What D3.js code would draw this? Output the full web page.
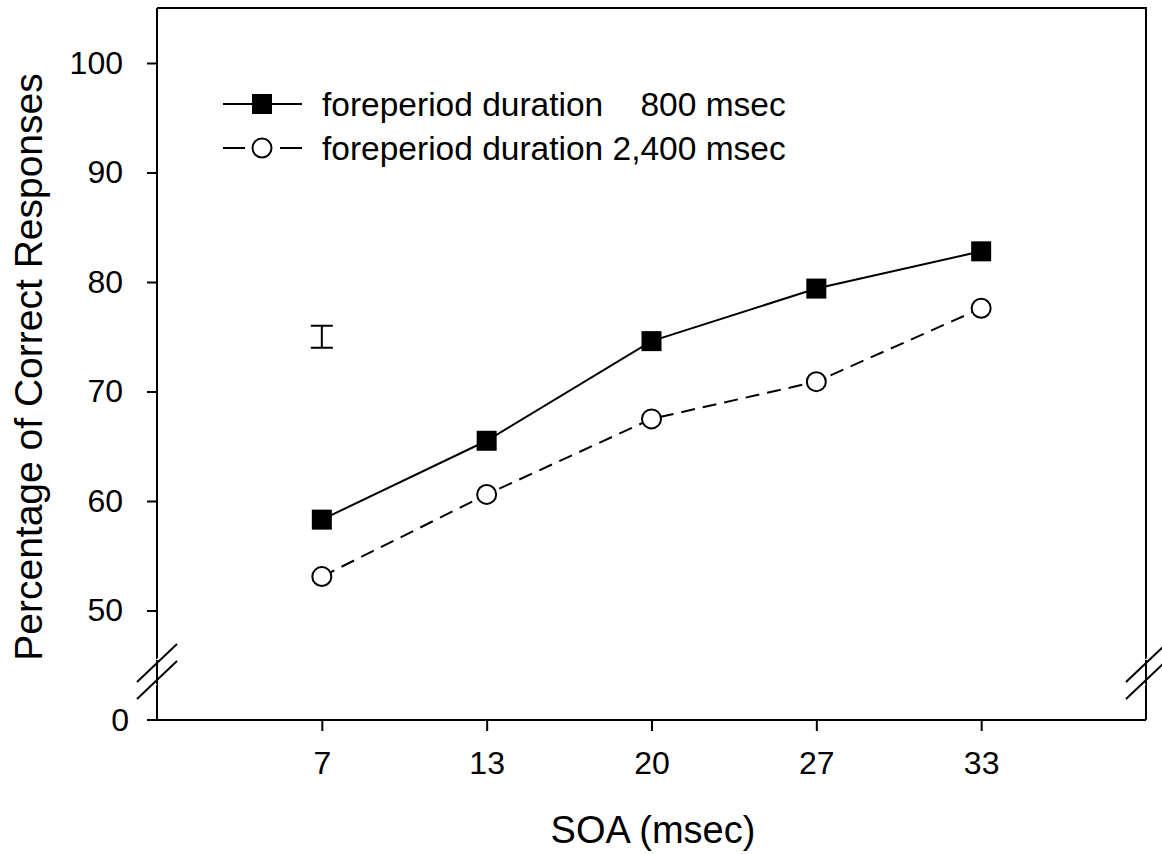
<!DOCTYPE html>
<html>
<head>
<meta charset="utf-8">
<script src="https://cdn.jsdelivr.net/npm/d3@7"></script>
<style>
  html, body { margin: 0; padding: 0; background: #fff; }
  svg { display: block; font-family: "Liberation Sans", Arial, sans-serif; }
</style>
</head>
<body>
<svg id="chart" width="1162" height="854"></svg>
<script>
// ---- data ----
const soaCategories = ["7", "13", "20", "27", "33"];
const fp800 = [58.3, 65.5, 74.6, 79.4, 82.8];
const fp2400 = [53.1, 60.6, 67.5, 70.9, 77.6];
const seriesNames = ["foreperiod duration    800 msec", "foreperiod duration 2,400 msec"];
const yTickValues = [40, 50, 60, 70, 80, 90, 100];
const yTickLabels = ["0", "50", "60", "70", "80", "90", "100"];
const errorBarCenter = [75.0];
const errorBarHalf = [1.0];
const xTitle = "SOA (msec)";
const yTitle = "Percentage of Correct Responses";

// ---- layout ----
const L = 157, R = 1146, T = 8, B = 720;
const svg = d3.select("#chart");
svg.style("white-space", "pre");

const x = d3.scalePoint().domain(soaCategories).range([L, R]).padding(1);
const y = d3.scaleLinear().domain([40, 100]).range([B, 63]);

// frame (top & right)
svg.append("path")
  .attr("d", `M${L},${T}H${R}V${B}`)
  .attr("fill", "none").attr("stroke", "#000").attr("stroke-width", 2);

// x axis
const xAxis = svg.append("g").attr("transform", `translate(0,${B})`)
  .call(d3.axisBottom(x).tickSize(11).tickSizeOuter(0).tickPadding(20));
xAxis.select(".domain").attr("d", `M${L - 10},0H${R}`).attr("stroke-width", 2);
xAxis.selectAll(".tick line").attr("stroke-width", 2);
xAxis.selectAll(".tick text").attr("font-size", 32).attr("fill", "#000")
  .attr("font-family", "Liberation Sans, Arial, sans-serif");

// y axis
const yAxis = svg.append("g").attr("transform", `translate(${L},0)`)
  .call(d3.axisLeft(y).tickValues(yTickValues)
    .tickFormat((d, i) => yTickLabels[i]).tickSize(10).tickSizeOuter(0).tickPadding(24));
yAxis.select(".domain").attr("d", `M0,${T}V${B}`).attr("stroke-width", 2);
yAxis.selectAll(".tick line").attr("stroke-width", 2);
const zeroTick = yAxis.selectAll(".tick").filter(d => d === 40);
zeroTick.select("line").remove();
zeroTick.select("text").attr("x", -28);
yAxis.selectAll(".tick text").attr("font-size", 32).attr("fill", "#000")
  .attr("font-family", "Liberation Sans, Arial, sans-serif");

// axis breaks
function breakMarks(cx) {
  const g = svg.append("g");
  [663, 680].forEach(cy => {
    g.append("line").attr("x1", cx - 21).attr("y1", cy + 20).attr("x2", cx + 21).attr("y2", cy - 20)
      .attr("stroke", "#fff").attr("stroke-width", 6);
  });
  [663, 680].forEach(cy => {
    g.append("line").attr("x1", cx - 20).attr("y1", cy + 19).attr("x2", cx + 20).attr("y2", cy - 19)
      .attr("stroke", "#000").attr("stroke-width", 2);
  });
  g.append("line").attr("x1", cx).attr("y1", 660).attr("x2", cx).attr("y2", 684)
    .attr("stroke", "#000").attr("stroke-width", 2);
}
breakMarks(L);
breakMarks(R);

// lines
const line = d3.line().x((d, i) => x(soaCategories[i])).y(d => y(d));
svg.append("path").datum(fp2400).attr("d", line)
  .attr("fill", "none").attr("stroke", "#000").attr("stroke-width", 2)
  .attr("stroke-dasharray", "14,8");
svg.append("path").datum(fp800).attr("d", line)
  .attr("fill", "none").attr("stroke", "#000").attr("stroke-width", 2);

// markers
svg.selectAll(".sq").data(fp800).join("rect")
  .attr("x", (d, i) => x(soaCategories[i]) - 10).attr("y", d => y(d) - 10)
  .attr("width", 20).attr("height", 20).attr("fill", "#000");
svg.selectAll(".ci").data(fp2400).join("circle")
  .attr("cx", (d, i) => x(soaCategories[i])).attr("cy", d => y(d)).attr("r", 9.5)
  .attr("fill", "#fff").attr("stroke", "#000").attr("stroke-width", 2);

// error bar
const ex = x(soaCategories[0]);
errorBarCenter.forEach((c, i) => {
  const y1 = y(c + errorBarHalf[i]), y2 = y(c - errorBarHalf[i]);
  svg.append("path")
    .attr("d", `M${ex - 11},${y1}H${ex + 11}M${ex},${y1}V${y2}M${ex - 11},${y2}H${ex + 11}`)
    .attr("fill", "none").attr("stroke", "#000").attr("stroke-width", 2);
});

// legend
const lg = svg.append("g");
const rows = [104, 148];
lg.append("line").attr("x1", 223).attr("x2", 302).attr("y1", rows[0]).attr("y2", rows[0])
  .attr("stroke", "#000").attr("stroke-width", 2);
lg.append("rect").attr("x", 252).attr("y", rows[0] - 10).attr("width", 20).attr("height", 20).attr("fill", "#000");
lg.append("path").attr("d", `M223,${rows[1]}H245M280,${rows[1]}H302`)
  .attr("stroke", "#000").attr("stroke-width", 2);
lg.append("circle").attr("cx", 262).attr("cy", rows[1]).attr("r", 9.5)
  .attr("fill", "#fff").attr("stroke", "#000").attr("stroke-width", 2);
seriesNames.forEach((s, i) => {
  lg.append("text").attr("x", 322).attr("y", rows[i] + 12).attr("font-size", 33.5)
    .attr("xml:space", "preserve").text(s);
});

// titles
svg.append("text").attr("x", 653).attr("y", 843).attr("text-anchor", "middle")
  .attr("font-size", 38).text(xTitle);
svg.append("text").attr("transform", "translate(42,367) rotate(-90)")
  .attr("text-anchor", "middle").attr("font-size", 39).text(yTitle);
</script>
</body>
</html>
